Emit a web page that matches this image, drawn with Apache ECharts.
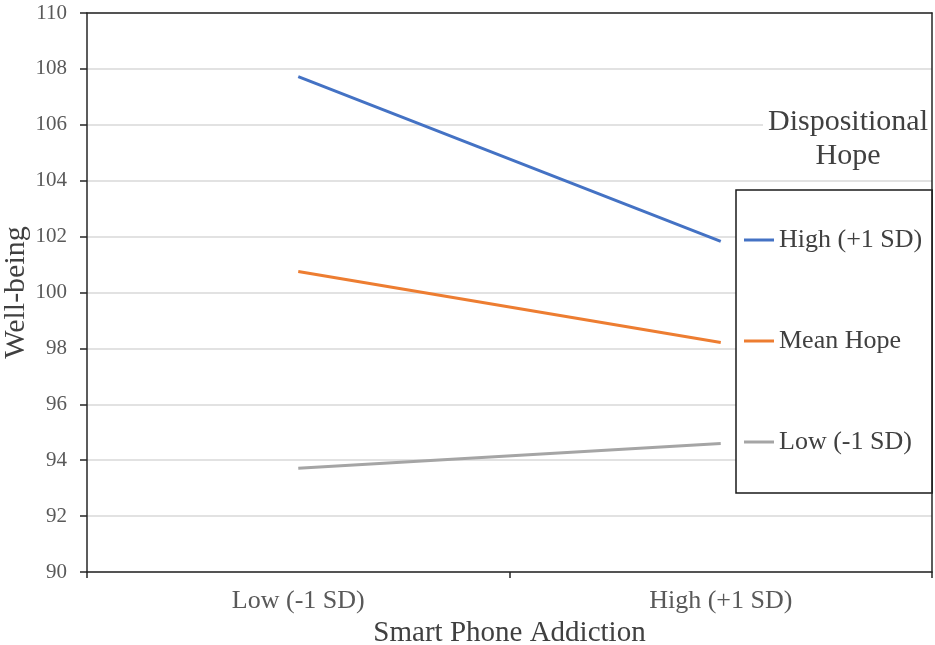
<!DOCTYPE html>
<html>
<head>
<meta charset="utf-8">
<script src="https://cdn.jsdelivr.net/npm/echarts@6/dist/echarts.min.js"></script>
<style>html,body{margin:0;padding:0;background:#fff}#c{width:935px;height:645px}</style>
</head>
<body>
<div id="c"></div>
<script>
var categories = ['Low (-1 SD)', 'High (+1 SD)'];
var seriesNames = ['High (+1 SD)', 'Mean Hope', 'Low (-1 SD)'];
var highHope = [107.72, 101.83];
var meanHope = [100.75, 98.21];
var lowHope = [93.71, 94.60];
var yTicks = { min: 90, max: 110, interval: 2 };
var colors = ['#4472C4', '#ED7D31', '#A5A5A5'];

var FONT = "'Liberation Serif', 'Times New Roman', serif";
var AX = '#262626';
var chart = echarts.init(document.getElementById('c'));
function line(name, data, color) {
  return {
    name: name, type: 'line', data: data, symbol: 'none', smooth: false,
    lineStyle: { color: color, width: 3 }, itemStyle: { color: color },
    emphasis: { disabled: true }, z: 3
  };
}
chart.setOption({
  animation: false,
  backgroundColor: '#fff',
  grid: { left: 87, right: 3, top: 13, bottom: 73, outerBoundsMode: 'none', containLabel: false },
  xAxis: [{
    type: 'category', data: categories, boundaryGap: true, position: 'bottom',
    axisLine: { lineStyle: { color: AX, width: 1.5 } },
    axisTick: { show: true, length: 6, alignWithLabel: false, lineStyle: { color: AX, width: 1.5 } },
    axisLabel: { fontFamily: FONT, fontSize: 26, color: '#595959', margin: 16 },
    name: 'Smart Phone Addiction', nameLocation: 'middle', nameGap: 47, nameMoveOverlap: false,
    nameTextStyle: { fontFamily: FONT, fontSize: 29, color: '#404040' },
    splitLine: { show: false }, z: 8
  }, {
    type: 'category', data: categories, position: 'top',
    axisLine: { show: true, onZero: false, lineStyle: { color: AX, width: 1.5 } },
    axisTick: { show: false }, axisLabel: { show: false }, splitLine: { show: false }, z: 8
  }],
  yAxis: [{
    type: 'value', min: yTicks.min, max: yTicks.max, interval: yTicks.interval, position: 'left',
    axisLine: { show: true, lineStyle: { color: AX, width: 1.5 } },
    axisTick: { show: true, length: 7, inside: false, lineStyle: { color: AX, width: 1.5 } },
    axisLabel: { fontFamily: FONT, fontSize: 21, color: '#595959', margin: 20 },
    splitLine: { show: true, lineStyle: { color: '#d9d9d9', width: 1.5 } },
    name: 'Well-being', nameLocation: 'middle', nameGap: 56, nameRotate: 90, nameMoveOverlap: false,
    nameTextStyle: { fontFamily: FONT, fontSize: 30, color: '#404040' }, z: 2
  }, {
    type: 'value', min: yTicks.min, max: yTicks.max, interval: yTicks.interval, position: 'right',
    axisLine: { show: true, onZero: false, lineStyle: { color: AX, width: 1.5 } },
    axisTick: { show: false }, axisLabel: { show: false }, splitLine: { show: false }, z: 8
  }],
  legend: {
    data: seriesNames, orient: 'vertical', left: 736, top: 190,
    padding: [37, 10, 38, 8], itemGap: 75, itemWidth: 30, itemHeight: 3, icon: 'rect',
    borderColor: '#1a1a1a', borderWidth: 1.5, backgroundColor: '#fff',
    textStyle: { fontFamily: FONT, fontSize: 26, color: '#404040', lineHeight: 26 },
    selectedMode: false, z: 6
  },
  graphic: [{
    type: 'text', x: 848, y: 139, z: 4,
    style: {
      text: 'Dispositional\nHope', align: 'center', verticalAlign: 'middle',
      font: '30px ' + FONT, fill: '#404040', lineHeight: 34,
      backgroundColor: '#fff', padding: [0, 5, 0, 5]
    }
  }],
  series: [
    line(seriesNames[0], highHope, colors[0]),
    line(seriesNames[1], meanHope, colors[1]),
    line(seriesNames[2], lowHope, colors[2])
  ]
});
</script>
</body>
</html>
